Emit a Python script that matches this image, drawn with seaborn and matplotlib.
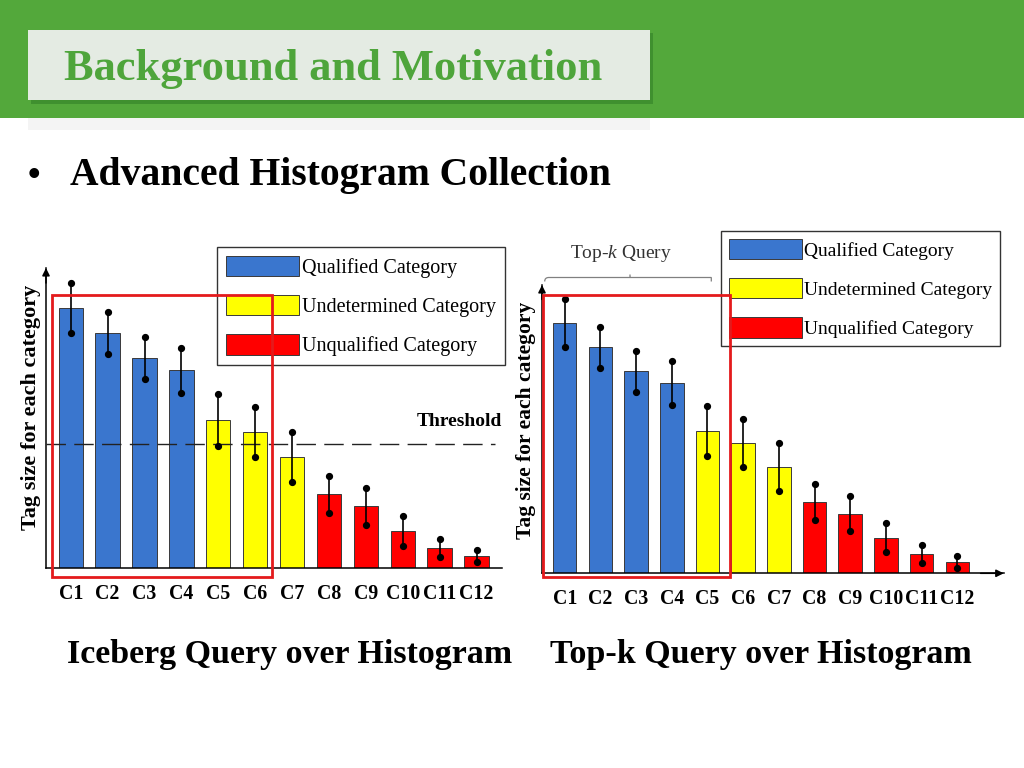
import matplotlib
matplotlib.use("Agg")
import matplotlib.pyplot as plt
import seaborn as sns
import numpy as np
from matplotlib.patches import Rectangle, Patch, PathPatch
from matplotlib.path import Path

# ---------------- data ----------------
categories = ["C1", "C2", "C3", "C4", "C5", "C6", "C7", "C8", "C9", "C10", "C11", "C12"]
tag_size = [26.0, 23.5, 21.0, 19.8, 14.8, 13.6, 11.1, 7.4, 6.2, 3.7, 2.0, 1.2]
tag_error = [2.5, 2.1, 2.1, 2.25, 2.6, 2.5, 2.5, 1.85, 1.85, 1.5, 0.9, 0.6]
status_iceberg = ["Qualified"] * 4 + ["Undetermined"] * 3 + ["Unqualified"] * 5
status_topk = ["Qualified"] * 4 + ["Undetermined"] * 3 + ["Unqualified"] * 5
threshold = 12.4
legend_labels = ["Qualified Category", "Undetermined Category", "Unqualified Category"]
status_colors = {"Qualified": "#3A76CE", "Undetermined": "#FFFF00", "Unqualified": "#FF0000"}

sns.set_theme(style="white")
plt.rcParams["font.family"] = ["Liberation Serif", "DejaVu Serif"]
plt.rcParams["mathtext.fontset"] = "custom"
plt.rcParams["mathtext.rm"] = "Liberation Serif"
plt.rcParams["mathtext.it"] = "Liberation Serif:italic"
plt.rcParams["text.color"] = "black"
plt.rcParams["axes.labelcolor"] = "black"
plt.rcParams["xtick.color"] = "black"
plt.rcParams["ytick.color"] = "black"

W, H = 1024, 768
fig = plt.figure(figsize=(W / 100, H / 100), dpi=100)
fig.patch.set_facecolor("white")


def frect(x0, y0, x1, y1, **kw):
    r = Rectangle((x0 / W, 1 - y1 / H), (x1 - x0) / W, (y1 - y0) / H,
                  transform=fig.transFigure, **kw)
    fig.add_artist(r)
    return r


def fax(x0, y0, x1, y1):
    return fig.add_axes([x0 / W, 1 - y1 / H, (x1 - x0) / W, (y1 - y0) / H])


# ---------------- slide header ----------------
frect(0, 0, W, 118, facecolor="#53A83B", edgecolor="none", zorder=0)
frect(28, 118, 650, 130, facecolor="#EEEEEE", edgecolor="none", zorder=0, alpha=0.6)
frect(31, 33, 653, 104, facecolor="#3B8A2C", edgecolor="none", zorder=1, alpha=0.8)
frect(28, 30, 650, 100, facecolor="#E4EBE3", edgecolor="none", zorder=2)
fig.text(64 / W, 1 - 69 / H, "Background and Motivation", color="#4EA53B",
         fontsize=32, fontweight="bold", ha="left", va="center", zorder=3)
fig.text(28 / W, 1 - 176 / H, "\u2022", fontsize=26, fontweight="bold", ha="left", va="center")
fig.text(70 / W, 1 - 175 / H, "Advanced Histogram Collection", fontsize=28.5,
         fontweight="bold", ha="left", va="center")


def draw_chart(ax, status, xlim, xarrow, label_fs):
    colors = [status_colors[s] for s in status]
    sns.barplot(x=categories, y=tag_size, hue=categories, palette=colors, legend=False,
                ax=ax, width=0.66, edgecolor="#3a3a3a", linewidth=0.7, saturation=1)
    idx = np.arange(len(categories))
    vals = np.array(tag_size)
    err = np.array(tag_error)
    ax.errorbar(idx, vals, yerr=err, fmt="none", ecolor="black", elinewidth=1.2, capsize=0, zorder=4)
    ax.plot(idx, vals + err, "o", color="black", ms=4.2, zorder=5)
    ax.plot(idx, vals - err, "o", color="black", ms=4.2, zorder=5)
    ax.set_xlim(*xlim)
    ax.set_ylim(0, 30)
    ax.set_yticks([])
    ax.tick_params(axis="x", length=0, pad=11, colors="black")
    for lab in ax.get_xticklabels():
        lab.set_fontweight("bold")
        lab.set_fontsize(14.3)
        lab.set_color("black")
    ax.set_xlabel("")
    ax.set_ylabel("Tag size for each category", fontsize=label_fs, fontweight="bold", color="black")
    for s in ["top", "right"]:
        ax.spines[s].set_visible(False)
    for s in ["left", "bottom"]:
        ax.spines[s].set_color("black")
        ax.spines[s].set_linewidth(1.1)
    ax.set_facecolor("none")
    ax.annotate("", xy=(0, 1.0), xytext=(0, 0.95), xycoords="axes fraction",
                arrowprops=dict(arrowstyle="-|>", color="black", lw=1.1, mutation_scale=11,
                                shrinkA=0, shrinkB=0))
    if xarrow:
        ax.annotate("", xy=(1.0, 0), xytext=(0.95, 0), xycoords="axes fraction",
                    arrowprops=dict(arrowstyle="-|>", color="black", lw=1.1, mutation_scale=11,
                                    shrinkA=0, shrinkB=0))


def add_legend(ax, x0, y0, fs, spacing, pad):
    handles = [Patch(facecolor=status_colors[k], edgecolor="#3a3a3a", linewidth=0.7)
               for k in ["Qualified", "Undetermined", "Unqualified"]]
    px = fs * 100 / 72
    leg = ax.legend(handles, legend_labels, loc="upper left",
                    bbox_to_anchor=(x0 / W, 1 - y0 / H), bbox_transform=fig.transFigure,
                    borderaxespad=0, fontsize=fs, handlelength=73 / px, handleheight=24 / px,
                    handletextpad=0.12, labelspacing=spacing, borderpad=pad,
                    fancybox=False, frameon=True, framealpha=1)
    leg.get_frame().set_edgecolor("#333333")
    leg.get_frame().set_linewidth(1.0)
    return leg


# ---------------- left chart: iceberg ----------------
axL = fax(46, 268, 502, 568.3)
draw_chart(axL, status_iceberg, (-0.67, 11.69), False, 16)
axL.yaxis.set_label_coords(-0.01, 0.537)
axL.axhline(threshold, xmin=0, xmax=0.985, color="#222222", lw=1.0, dashes=(14, 6), zorder=3)
axL.text(11.69, threshold + 2.3, "Threshold", fontsize=14, fontweight="bold",
         ha="right", va="center")
add_legend(axL, 217.3, 246.7, 14.5, 0.85, 0.45)
frect(51.7, 295, 272.3, 577.3, facecolor="none", edgecolor="#E41A1C", linewidth=2.0, zorder=10)

# ---------------- right chart: top-k ----------------
axR = fax(542, 285, 1003.7, 573.3)
draw_chart(axR, status_topk, (-0.636, 12.3), True, 15.5)
axR.yaxis.set_label_coords(-0.013, 0.532)
add_legend(axR, 721, 231, 14, 0.95, 0.4)
frect(542.7, 295, 730.3, 577.3, facecolor="none", edgecolor="#E41A1C", linewidth=2.0, zorder=10)

# curly brace
bx0, bx1, bxm, by = 544.7, 711.3, 630, 277.5
verts_px = [(bx0, by + 4), (bx0, by), (bx0 + 4, by), (bx0 + 8, by),
            (bxm - 8, by), (bxm - 4, by), (bxm, by), (bxm, by - 3),
            (bxm, by), (bxm + 4, by), (bxm + 8, by),
            (bx1 - 8, by), (bx1 - 4, by), (bx1, by), (bx1, by + 4)]
codes = [Path.MOVETO, Path.CURVE3, Path.CURVE3, Path.LINETO,
         Path.LINETO, Path.CURVE3, Path.CURVE3, Path.LINETO,
         Path.MOVETO, Path.CURVE3, Path.CURVE3,
         Path.LINETO, Path.CURVE3, Path.CURVE3, Path.LINETO]
verts = [(x / W, 1 - y / H) for x, y in verts_px]
fig.add_artist(PathPatch(Path(verts, codes), transform=fig.transFigure, facecolor="none",
                         edgecolor="#808080", linewidth=0.9))
fig.text(621 / W, 1 - 253 / H, "Top-$k$ Query", fontsize=14, color="#333333",
         ha="center", va="center")

# ---------------- captions ----------------
fig.text(290 / W, 1 - 655 / H, "Iceberg Query over Histogram", fontsize=24.5,
         fontweight="bold", ha="center", va="center")
fig.text(761 / W, 1 - 655 / H, "Top-k Query over Histogram", fontsize=24.5,
         fontweight="bold", ha="center", va="center")

fig.savefig("out.png", dpi=100)
